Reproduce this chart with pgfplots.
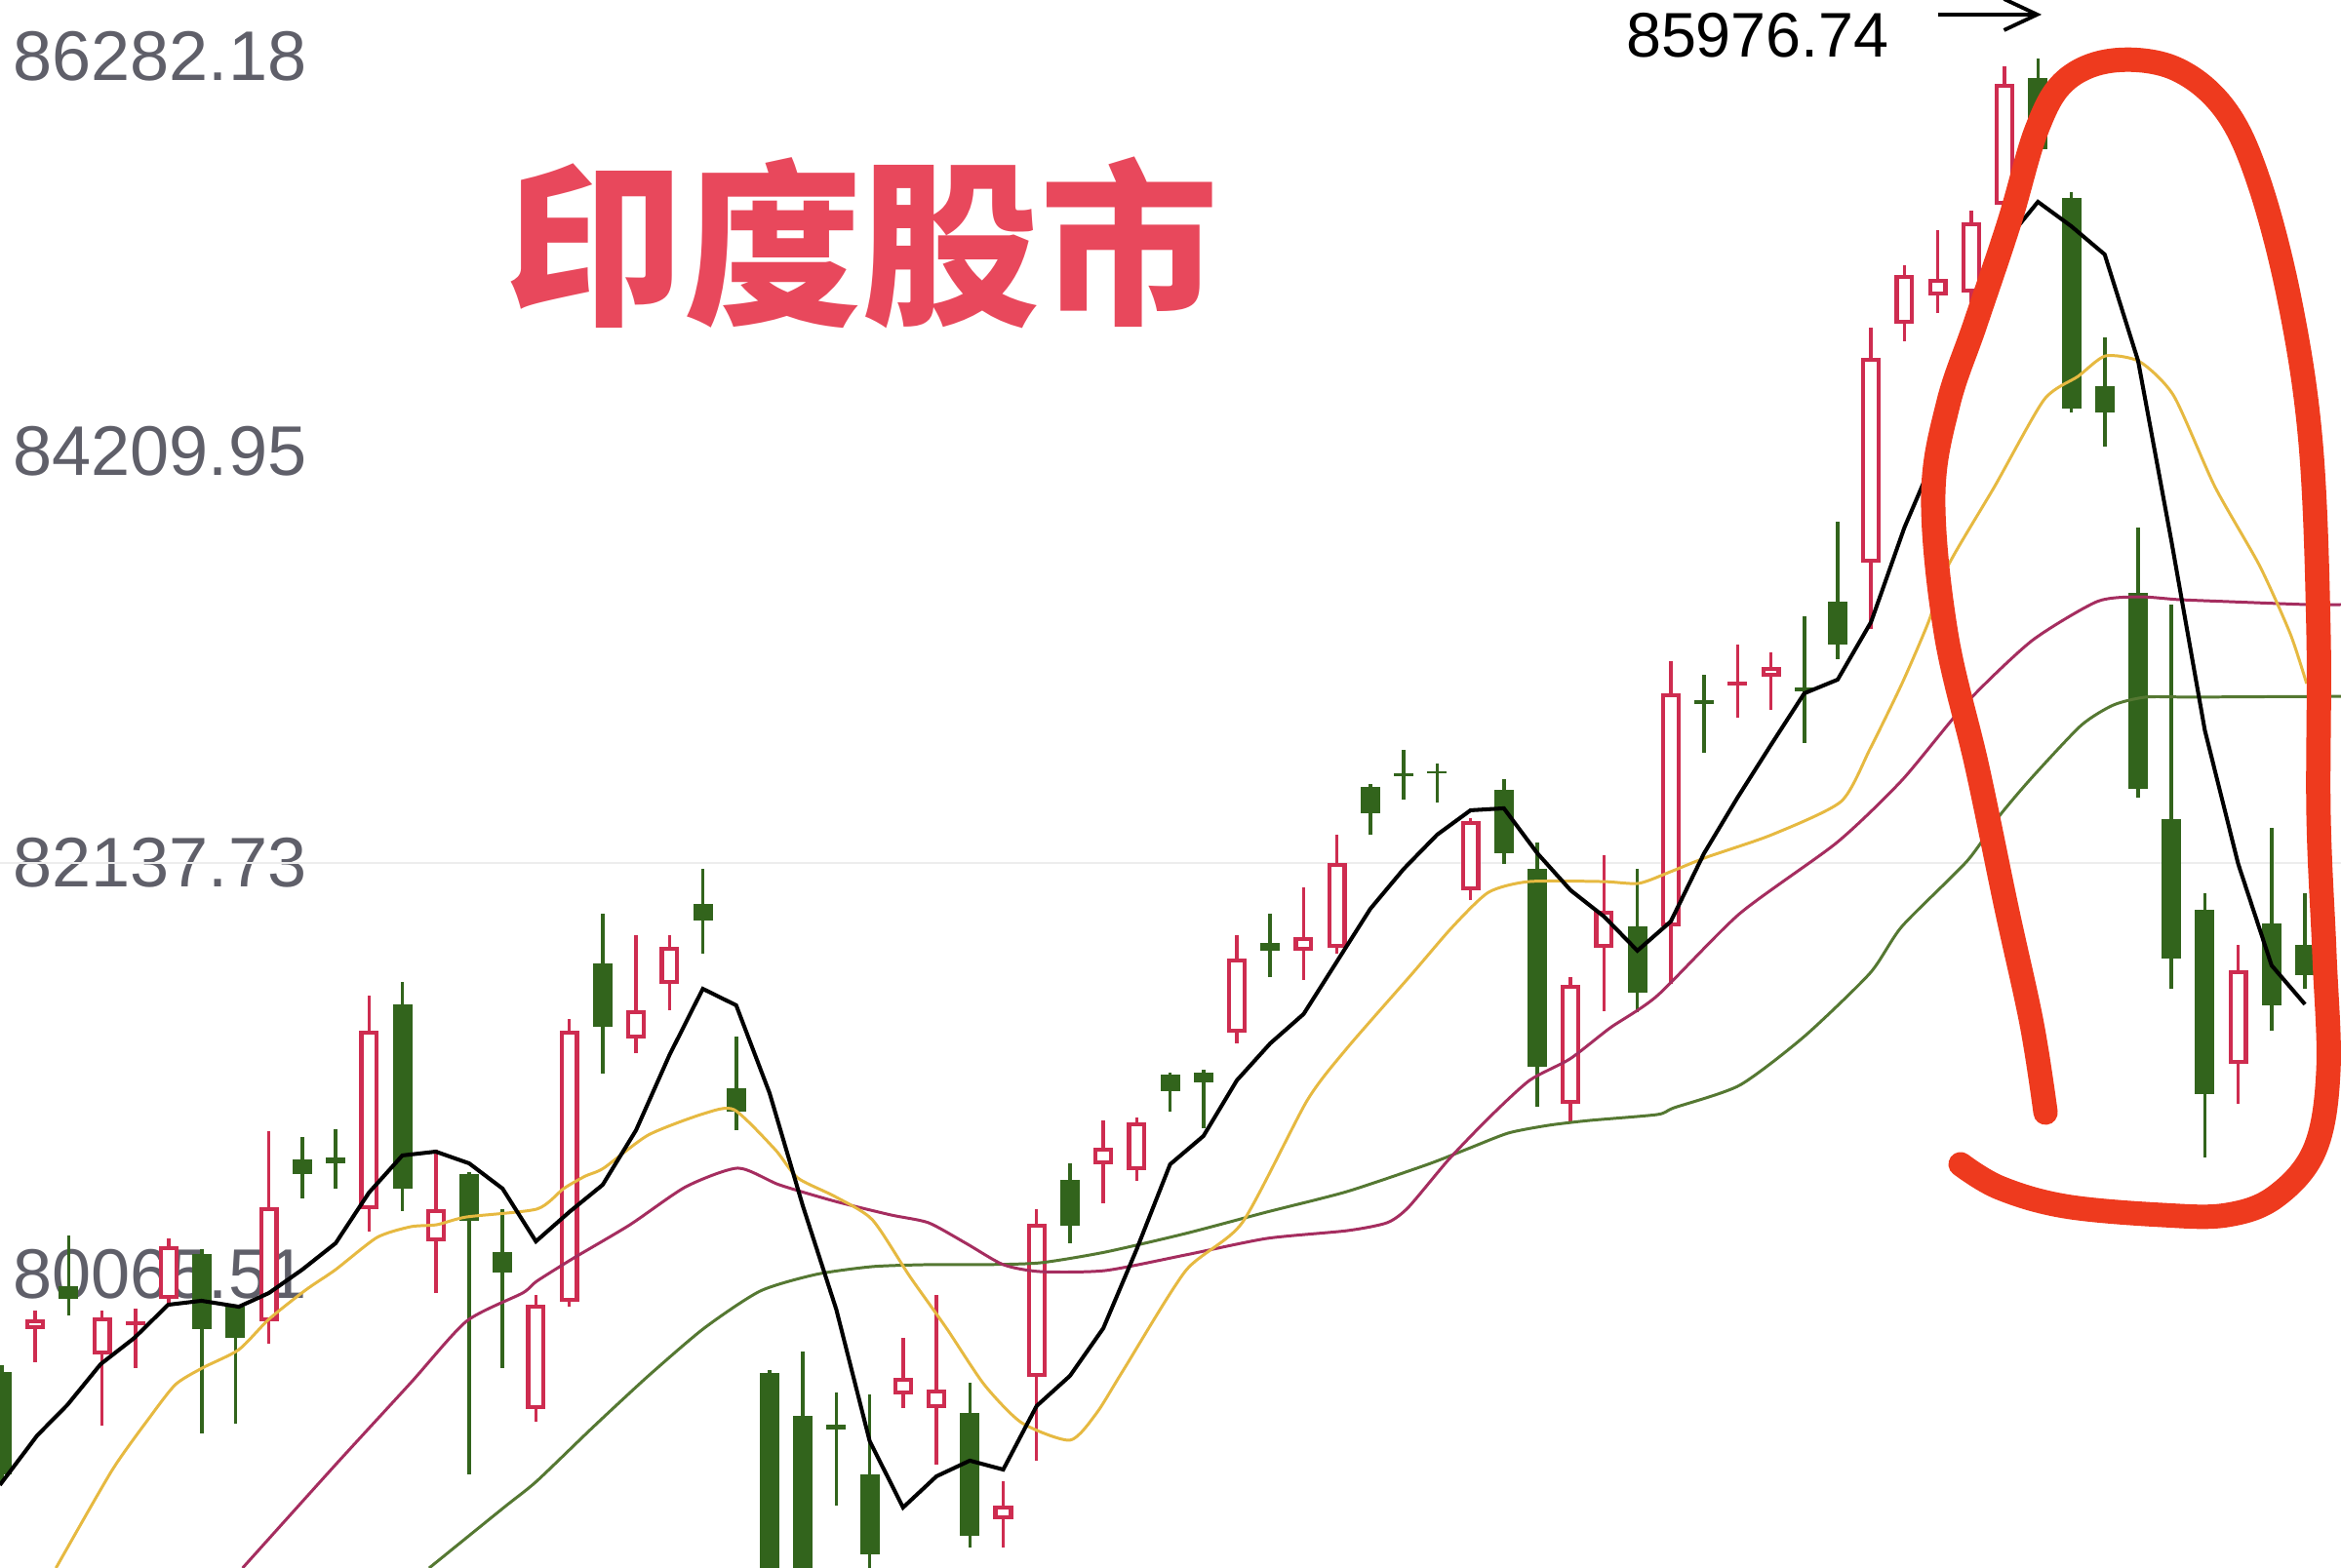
\documentclass[border=0pt]{standalone}
\usepackage{fontspec}
\setmainfont{Liberation Sans}
\newfontfamily\cjk{Noto Sans CJK SC}
\usepackage{pgfplots}
\usepackage{pgfplotstable}
\pgfplotsset{compat=1.18}
\usetikzlibrary{arrows.meta}

\definecolor{candlered}{RGB}{206,44,80}
\definecolor{candlegreen}{RGB}{50,100,28}
\definecolor{maorange}{RGB}{230,185,65}
\definecolor{mapink}{RGB}{165,45,95}
\definecolor{magreen}{RGB}{85,120,50}
\definecolor{ticktext}{RGB}{95,95,105}
\definecolor{titlered}{RGB}{232,72,92}
\definecolor{circlered}{RGB}{238,58,30}

% rising (red, hollow) candles: index, open, high, low, close
\pgfplotstableread{
i O H L C
1 79791 79884 79624 79840
3 79663 79884 79304 79849
4 79810 79894 79594 79830
5 79943 80247 79903 80208
8 79830 80787 79717 80404
11 80395 81470 80282 81293
13 80232 80694 79972 80395
16 79388 79962 79324 79913
17 79928 81352 79903 81293
19 81254 81774 81180 81396
20 81529 81774 81396 81715
27 79462 79746 79393 79545
28 79393 79962 79108 79486
30 78833 79024 78691 78902
31 79550 80395 79128 80321
33 80620 80841 80424 80704
34 80591 80856 80537 80832
37 81283 81774 81229 81657
39 81696 82015 81548 81765
40 81711 82280 81681 82138
44 82000 82364 81951 82349
47 80925 81563 80832 81524
48 81711 82177 81391 81897
50 81819 83154 81529 82992
52 83031 83238 82869 83051
53 83076 83198 82909 83125
56 83650 84834 83316 84681
57 84853 85148 84765 85099
58 84996 85325 84907 85079
59 85010 85423 84961 85364
60 85452 86150 85403 86061
67 81126 81725 80925 81598
}\upc

% falling (green, filled) candles
\pgfplotstableread{
i O H L C
0 79574 79609 79020 79059
2 80007 80262 79859 79943
6 80169 80193 79265 79791
7 79903 79913 79314 79746
9 80645 80758 80449 80571
10 80655 80797 80498 80625
12 81426 81539 80385 80498
14 80571 80581 79059 80336
15 80178 80395 79594 80075
18 81632 81882 81077 81313
21 81932 82108 81681 81848
22 81003 81264 80792 80886
23 79570 79584 78406 78430
24 79354 79678 78406 78430
25 79309 79471 78902 79285
26 79059 79462 78504 78656
29 79368 79520 78691 78750
32 80542 80625 80223 80311
35 81072 81082 80886 80989
36 81082 81097 80802 81033
38 81735 81882 81563 81696
41 82521 82536 82280 82388
42 82590 82707 82457 82575
43 82599 82639 82442 82590
45 82506 82560 82133 82187
46 82108 82241 80910 81111
49 81819 82108 81386 81485
51 82958 83085 82693 82938
54 83022 83380 82742 83002
55 83454 83856 83164 83238
61 86091 86189 85673 85732
62 85487 85516 84406 84426
63 84539 84785 84235 84406
64 83498 83827 82467 82511
65 82359 83439 81504 81657
66 81902 81986 80655 80974
68 81833 82315 81293 81421
69 81725 81986 81504 81573
}\downc

\pgfplotstableread{
x y
-0.06 79005
1.06 79255
1.96 79408
2.96 79614
3.97 79746
4.98 79913
5.98 79933
7.1 79903
8 79972
9 80090
10 80223
11 80478
12 80665
13 80684
14 80625
15 80498
16 80232
17 80380
18 80517
19 80792
20 81170
21 81504
22 81421
23 80979
24 80409
25 79889
26 79226
27 78892
28 79049
29 79128
30 79083
31 79403
32 79555
33 79795
34 80193
35 80620
36 80763
37 81043
38 81229
39 81377
40 81642
41 81907
42 82108
43 82280
44 82403
45 82413
46 82187
47 82000
48 81868
49 81696
50 81843
51 82187
52 82467
53 82732
54 82992
55 83061
56 83351
57 83827
58 84220
59 84691
60 85261
61 85467
62 85344
63 85202
64 84667
65 83758
66 82806
67 82133
68 81622
69 81426
}\maA

\pgfplotstableread{
x y
1.62 78587
3.3 79079
4.42 79344
5.2 79511
6 79594
7.1 79687
8 79840
9.1 79987
10 80090
11.24 80252
12.25 80306
13.03 80316
13.92 80355
16.03 80395
16.83 80498
17.48 80561
18.03 80601
19.37 80768
21.04 80876
21.94 80895
23.17 80694
23.84 80552
24.96 80458
26.08 80341
27.2 80056
28.3 79795
29.43 79511
30.55 79319
32.0 79231
32.8 79368
33.6 79584
35.47 80085
37.16 80326
39.1 80940
40.3 81205
42.24 81578
43.45 81814
44.54 81990
45.75 82044
47.98 82044
49.04 82035
50 82094
51.08 82167
53.03 82280
55.1 82447
55.97 82712
56.94 83046
57.72 83351
58.31 83635
59.7 84033
61.18 84470
62.2 84588
63.02 84691
64.05 84662
65.07 84490
66.3 84033
67.64 83635
68.56 83292
69.05 83041
}\maB

\pgfplotstableread{
x y
7.21 78587
10 79108
12.25 79520
13.92 79830
15.6 79972
16.02 80031
17.14 80149
18.82 80316
20.49 80507
22.05 80601
23.29 80517
24.96 80434
26.64 80365
27.76 80326
28.88 80223
30 80115
31.1 80080
33.05 80085
35.47 80164
37.9 80247
40.3 80286
41.5 80326
42.14 80404
43.35 80645
44.56 80856
45.77 81043
46.98 81151
48.19 81308
49.6 81470
52.06 81882
54.98 82241
56.93 82555
58.88 82948
60.82 83257
62.77 83454
64.04 83478
65.2 83464
66.67 83454
69.05 83439
70.1 83439
}\maC

\pgfplotstableread{
x y
12.8 78587
15.04 78892
16.02 79024
17.7 79295
19.37 79555
21.04 79795
22.72 79982
24.4 80066
26.08 80105
27.76 80115
29.43 80115
31.1 80124
33.05 80178
35.47 80272
37.9 80380
40.3 80483
42.72 80620
43.93 80699
45.14 80778
46.35 80817
47.56 80841
49.6 80871
50.1 80905
52.06 81018
54 81264
55.97 81583
56.93 81819
58.88 82148
59.87 82380
60.83 82570
62.29 82830
63.26 82933
64.24 82973
65.7 82973
70.1 82977
}\maD

\begin{document}
\begin{tikzpicture}
\begin{axis}[
  set layers,
  width=24cm, height=16.08cm, scale only axis,
  xmin=-0.056, xmax=70.08, ymin=78587.4, ymax=86483.5,
  axis line style={draw=none},
  tick style={draw=none},
  major tick length=0pt,
  xtick=\empty,
  ytick={80065.51,82137.73,84209.95},
  yticklabels={80065.51,82137.73,84209.95},
  extra y ticks={86282.18},
  extra y tick labels={86282.18},
  extra y tick style={yticklabel style={yshift=-0.17cm}},
  yticklabel style={anchor=west, inner sep=0pt, xshift=0.13cm,
    font=\fontsize{20.5}{24}\selectfont, text=ticktext},
  clip=true,
  candle/.style={draw=none, mark=none, forget plot,
    error bars/.cd, y dir=plus, y explicit, error mark=none},
]
\draw[gray!14, line width=0.7pt] (axis cs:-1,82137.73) -- (axis cs:71,82137.73);

% wicks
\addplot[candle, error bar style={line width=1.0pt, draw=candlered}]
  table[x=i, y=L, y error expr={\thisrow{H}-\thisrow{L}}] {\upc};
\addplot[candle, error bar style={line width=1.0pt, draw=candlegreen}]
  table[x=i, y=L, y error expr={\thisrow{H}-\thisrow{L}}] {\downc};
% bodies
\addplot[candle, error bar style={line width=5.7pt, line cap=butt, draw=candlegreen}]
  table[x=i, y=C, y error expr={\thisrow{O}-\thisrow{C}}] {\downc};
\addplot[candle, error bar style={line width=5.7pt, line cap=butt, draw=candlered}]
  table[x=i, y=O, y error expr={\thisrow{C}-\thisrow{O}}] {\upc};
\addplot[candle, error bar style={line width=3.3pt, line cap=butt, draw=white}]
  table[x=i, y expr={\thisrow{O}+20}, y error expr={max(\thisrow{C}-\thisrow{O}-40,0)}] {\upc};

% moving averages
\addplot[magreen, line width=0.85pt, smooth, tension=0.4] table[x=x,y=y] {\maD};
\addplot[mapink, line width=0.85pt, smooth, tension=0.4] table[x=x,y=y] {\maC};
\addplot[maorange, line width=0.85pt, smooth, tension=0.4] table[x=x,y=y] {\maB};
\addplot[black, line width=1.15pt] table[x=x,y=y] {\maA};

\node[font=\cjk\bfseries\fontsize{52}{60}\selectfont, text=titlered] at (rel axis cs:0.3683,0.8451) {印度股市};
\node[font=\fontsize{18.4}{22}\selectfont, text=black] at (rel axis cs:0.7508,0.9776) {85976.74};
\draw[line width=1.1pt, -{Straight Barb[length=0.34cm,width=0.32cm]}] (rel axis cs:0.8279,0.9907) -- (rel axis cs:0.8721,0.9907);

\draw[circlered, line width=0.25cm, line cap=round, line join=round] plot[smooth, tension=0.6] coordinates {
(rel axis cs:0.8738,0.2904) (rel axis cs:0.8679,0.3470) (rel axis cs:0.8571,0.4210)
(rel axis cs:0.8446,0.5106) (rel axis cs:0.8313,0.5958) (rel axis cs:0.8258,0.6828)
(rel axis cs:0.8321,0.7419) (rel axis cs:0.8438,0.7935) (rel axis cs:0.8583,0.8582)
(rel axis cs:0.8700,0.9173) (rel axis cs:0.8821,0.9484) (rel axis cs:0.9025,0.9614)
(rel axis cs:0.9288,0.9565) (rel axis cs:0.9504,0.9303) (rel axis cs:0.9650,0.8837)
(rel axis cs:0.9783,0.8066) (rel axis cs:0.9871,0.7164) (rel axis cs:0.9904,0.5958)
(rel axis cs:0.9904,0.4807) (rel axis cs:0.9929,0.3918) (rel axis cs:0.9946,0.3172)
(rel axis cs:0.9888,0.2668) (rel axis cs:0.9721,0.2369) (rel axis cs:0.9513,0.2251)
(rel axis cs:0.9238,0.2251) (rel axis cs:0.8821,0.2307) (rel axis cs:0.8542,0.2425)
(rel axis cs:0.8375,0.2575)};

\coordinate (SW) at (rel axis cs:0,0);
\coordinate (NE) at (rel axis cs:1,1);
\end{axis}
\pgfresetboundingbox
\useasboundingbox (SW) rectangle (NE);
\end{tikzpicture}
\end{document}
